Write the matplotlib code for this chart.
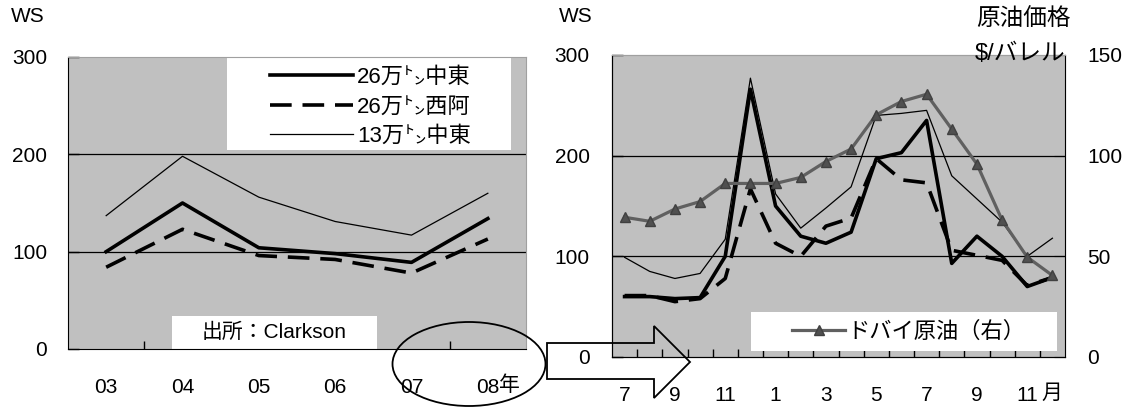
import numpy as np
import matplotlib
matplotlib.use("Agg")
from matplotlib import pyplot as plt
from matplotlib.patches import Ellipse, Polygon, Rectangle

plt.rcParams['font.family'] = ['Liberation Sans', 'Noto Sans CJK JP', 'DejaVu Sans']
plt.rcParams['font.size'] = 15

# annual WS, 2003-2008
years = ['03', '04', '05', '06', '07', '08']
ws_me260 = [100, 150, 104, 98, 89, 134]
ws_wa260 = [84, 123, 96, 92, 78, 113]
ws_me130 = [137, 198, 156, 131, 117, 160]

# monthly WS, Jul 2007 - Dec 2008
months = ['7', '', '9', '', '11', '', '1', '', '3', '', '5', '', '7', '', '9', '', '11', '']
m_me260 = [60, 60, 58, 59, 100, 266, 150, 120, 113, 124, 197, 203, 235, 93, 120, 100, 70, 79]
m_wa260 = [61, 61, 55, 58, 78, 167, 113, 100, 130, 138, 197, 176, 173, 106, 101, 96, 71, 79]
m_me130 = [99, 85, 78, 83, 117, 277, 162, 128, 148, 169, 240, 242, 245, 180, 157, 134, 100, 118]
dubai = [69.4, 67.4, 73.5, 77.2, 86.2, 86.2, 86.2, 89.2, 97.1, 103.3, 120.3, 126.9, 130.5,
         113.2, 95.8, 68.0, 49.6, 40.5]

labels = ['26万㌧中東', '26万㌧西阿', '13万㌧中東']
ws_ticks = [0, 100, 200, 300]
usd_ticks = [0, 50, 100, 150]

W, H = 1131, 407
fig = plt.figure(figsize=(W / 100, H / 100), dpi=100)
bg = '#c0c0c0'


def style_axes(ax):
    ax.set_facecolor(bg)
    for s in ['top', 'right']:
        ax.spines[s].set_color('#a0a0a0')
    for s in ['left', 'bottom']:
        ax.spines[s].set_color('black')
    ax.tick_params(axis='y', direction='in', length=8, width=1)
    ax.tick_params(axis='x', which='major', length=0)
    ax.tick_params(axis='x', which='minor', direction='in', length=6, width=1)
    for v in ws_ticks[1:-1]:
        ax.axhline(v, color='black', lw=0.9, zorder=1)


# ---- left: yearly ----
ax1 = fig.add_axes([68 / W, 1 - 349 / H, 458 / W, 292 / H])
style_axes(ax1)
x1 = np.arange(len(years)) + 0.5
l1, = ax1.plot(x1, ws_me260, color='black', lw=2.6, zorder=3)
l2, = ax1.plot(x1, ws_wa260, color='black', lw=2.6, dashes=(6, 3), zorder=3)
l3, = ax1.plot(x1, ws_me130, color='black', lw=0.9, zorder=3)
ax1.set_xlim(0, len(years))
ax1.set_ylim(0, 300)
ax1.set_yticks(ws_ticks)
ax1.tick_params(axis='y', pad=15)
ax1.set_xticks(x1, years)
ax1.set_xticks(np.arange(1, len(years)), minor=True)
ax1.tick_params(axis='x', which='major', pad=21)
ax1.text(5.65, -0.123, '年', transform=ax1.get_xaxis_transform(), ha='left', va='center')

ax1.add_patch(Rectangle((0.347, 0.682), 0.62, 0.318, transform=ax1.transAxes,
                        facecolor='white', edgecolor='none', zorder=2))
ax1.legend([l1, l2, l3], labels, loc='upper left', bbox_to_anchor=(0.43, 0.985),
           frameon=False, borderpad=0.25, borderaxespad=0, handlelength=3.7,
           handletextpad=0.2, labelspacing=0.38, fontsize=16)

ax1.add_patch(Rectangle((0.227, 0), 0.448, 0.113, transform=ax1.transAxes,
                        facecolor='white', edgecolor='none', zorder=2))
ax1.text(0.451, 0.057, '出所：Clarkson', transform=ax1.transAxes, ha='center',
         va='center', fontsize=15, zorder=4)

# ---- right: monthly + Dubai crude ----
ax2 = fig.add_axes([612 / W, 1 - 357 / H, 453 / W, 302 / H])
style_axes(ax2)
x2 = np.arange(len(months)) + 0.5
ax2.plot(x2, m_me130, color='black', lw=0.9, zorder=3)
ax2.plot(x2, m_wa260, color='black', lw=2.6, dashes=(6, 3), zorder=3)
ax2.plot(x2, m_me260, color='black', lw=2.6, zorder=3)
ax2.set_xlim(0, len(months))
ax2.set_ylim(0, 300)
ax2.set_yticks(ws_ticks)
ax2.tick_params(axis='y', pad=16)
ax2.set_xticks(x2, months)
ax2.set_xticks(np.arange(1, len(months)), minor=True)
ax2.tick_params(axis='x', which='major', pad=21)
ax2.text(17.46, -0.119, '月', transform=ax2.get_xaxis_transform(), ha='center', va='center')

ax3 = ax2.twinx()
ax3.spines['right'].set_color('black')
ax3.spines['top'].set_color('#a0a0a0')
d, = ax3.plot(x2, dubai, color='#606060', lw=2.3, marker='^', ms=7,
              mfc='#505050', mec='#404040', zorder=4)
ax3.set_ylim(0, 150)
ax3.set_yticks(usd_ticks)
ax3.tick_params(axis='y', direction='in', length=8, pad=16)

ax3.add_patch(Rectangle((0.306, 0.02), 0.676, 0.13, transform=ax3.transAxes,
                        facecolor='white', edgecolor='none', zorder=2))
ax3.legend([d], ['ドバイ原油（右）'], loc='center', bbox_to_anchor=(0.655, 0.083),
           frameon=False, borderpad=0, handlelength=2.4, handletextpad=0.1, fontsize=16)

# ---- headings ----
fig.text(11 / W, 1 - 17 / H, 'WS', ha='left', va='center')
fig.text(559 / W, 1 - 17 / H, 'WS', ha='left', va='center')
fig.text(976 / W, 1 - 20 / H, '原油価格', ha='left', va='center', fontsize=17)
fig.text(975 / W, 1 - 54 / H, '$/バレル', ha='left', va='center', fontsize=17)

# ellipse around 07-08 and the block arrow pointing right
fig.add_artist(Ellipse((469 / W, 1 - 364 / H), 153 / W, 84 / H, transform=fig.transFigure,
                       facecolor='none', edgecolor='black', lw=1.3))
arrow_px = [(547, 343), (654, 343), (654, 326), (690, 362), (654, 398), (654, 379), (547, 379)]
fig.add_artist(Polygon([(x / W, 1 - y / H) for x, y in arrow_px], closed=True,
                       transform=fig.transFigure, facecolor='none', edgecolor='black', lw=1.3))

fig.savefig('out.png', dpi=100, facecolor='white')
